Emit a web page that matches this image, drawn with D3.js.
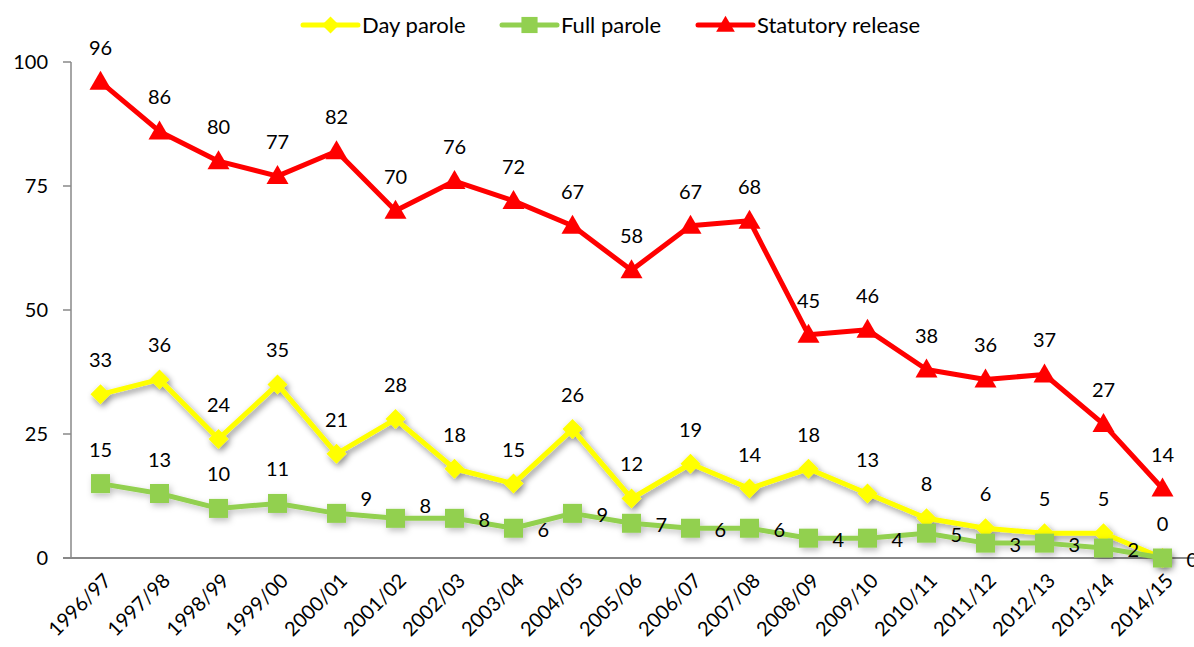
<!DOCTYPE html>
<html>
<head>
<meta charset="utf-8">
<script src="https://cdn.jsdelivr.net/npm/d3@7"></script>
<style>
  body { margin: 0; background: #fff; }
  svg { font-family: Lato, "Open Sans", sans-serif; }
</style>
</head>
<body>
<svg id="chart" width="1194" height="647"></svg>
<script>
// values
var years = ["1996/97", "1997/98", "1998/99", "1999/00", "2000/01", "2001/02", "2002/03",
  "2003/04", "2004/05", "2005/06", "2006/07", "2007/08", "2008/09", "2009/10",
  "2010/11", "2011/12", "2012/13", "2013/14", "2014/15"];
var dayParole = [33, 36, 24, 35, 21, 28, 18, 15, 26, 12, 19, 14, 18, 13, 8, 6, 5, 5, 0];
var fullParole = [15, 13, 10, 11, 9, 8, 8, 6, 9, 7, 6, 6, 4, 4, 5, 3, 3, 2, 0];
var statutory = [96, 86, 80, 77, 82, 70, 76, 72, 67, 58, 67, 68, 45, 46, 38, 36, 37, 27, 14];
var yTicks = [0, 25, 50, 75, 100];

var series = [
  { name: "Day parole", values: dayParole, color: "#ffff00", marker: "diamond", shadow: "shadowDark" },
  { name: "Full parole", values: fullParole, color: "#92d050", marker: "square", shadow: "shadowLight" },
  { name: "Statutory release", values: statutory, color: "#ff0000", marker: "triangle", shadow: null }
];

var svg = d3.select("#chart");
var plotLeft = 71, plotRight = 1192, plotTop = 62, plotBottom = 558;
var labelSize = 20;

var x = d3.scalePoint().domain(years).range([plotLeft, plotRight]).padding(0.5);
var y = d3.scaleLinear().domain([0, 100]).range([plotBottom, plotTop]);

// drop shadows
var defs = svg.append("defs");
function addShadow(id, opacity) {
  var f = defs.append("filter").attr("id", id)
    .attr("x", "-20%").attr("y", "-20%").attr("width", "140%").attr("height", "140%");
  f.append("feDropShadow").attr("dx", 2).attr("dy", 3).attr("stdDeviation", 3)
    .attr("flood-color", "#000").attr("flood-opacity", opacity);
}
addShadow("shadowDark", 0.45);
addShadow("shadowLight", 0.25);

function markerPath(type, cx, cy) {
  if (type === "diamond") {
    var r = 10;
    return "M" + cx + "," + (cy - r) + "L" + (cx + r) + "," + cy + "L" + cx + "," + (cy + r) + "L" + (cx - r) + "," + cy + "Z";
  }
  if (type === "square") {
    var h = 9.5;
    return "M" + (cx - h) + "," + (cy - h) + "h" + (2 * h) + "v" + (2 * h) + "h" + (-2 * h) + "Z";
  }
  var w = 11, t = 11, b = 8;
  return "M" + cx + "," + (cy - t) + "L" + (cx + w) + "," + (cy + b) + "L" + (cx - w) + "," + (cy + b) + "Z";
}

// axes
svg.append("line").attr("x1", plotLeft).attr("x2", plotLeft).attr("y1", plotTop).attr("y2", plotBottom)
  .attr("stroke", "#888").attr("stroke-width", 1.5);
svg.append("line").attr("x1", 63).attr("x2", 1194).attr("y1", plotBottom).attr("y2", plotBottom)
  .attr("stroke", "#888").attr("stroke-width", 2);

svg.selectAll(".ytick").data(yTicks).enter().append("line")
  .attr("x1", 63).attr("x2", plotLeft).attr("y1", function(d) { return y(d); }).attr("y2", function(d) { return y(d); })
  .attr("stroke", "#888").attr("stroke-width", 1.5);
svg.selectAll(".ylab").data(yTicks).enter().append("text")
  .attr("x", 48).attr("y", function(d) { return y(d); }).attr("dy", "0.35em")
  .attr("text-anchor", "end").attr("font-size", 20).attr("fill", "#000")
  .text(function(d) { return d; });

svg.selectAll(".xlab").data(years).enter().append("text")
  .attr("transform", function(d) { return "translate(" + (x(d) + 7) + "," + 577 + ") rotate(-45)"; })
  .attr("text-anchor", "end").attr("font-size", 20).attr("fill", "#000")
  .attr("dy", "0.35em")
  .text(function(d) { return d; });

// lines and markers
var line = d3.line().x(function(d, i) { return x(years[i]); }).y(function(d) { return y(d); });

series.forEach(function(s) {
  var g = svg.append("g");
  if (s.shadow) g.attr("filter", "url(#" + s.shadow + ")");
  g.append("path").datum(s.values).attr("d", line)
    .attr("fill", "none").attr("stroke", s.color).attr("stroke-width", 5)
    .attr("stroke-linejoin", "round");
  g.selectAll(".m").data(s.values).enter().append("path")
    .attr("d", function(d, i) { return markerPath(s.marker, x(years[i]), y(d)); })
    .attr("fill", s.color);
});

// data labels
function labelAbove(vals) {
  svg.append("g").selectAll("text").data(vals).enter().append("text")
    .attr("x", function(d, i) { return x(years[i]); })
    .attr("y", function(d) { return y(d) - 34; })
    .attr("dy", "0.35em").attr("text-anchor", "middle").attr("font-size", labelSize).attr("fill", "#000")
    .text(function(d) { return d; });
}
labelAbove(dayParole);
labelAbove(statutory);

// full parole: first four above, the rest to the right of the point
var raised = { 4: -16, 5: -14 };
svg.append("g").selectAll("text").data(fullParole).enter().append("text")
  .attr("x", function(d, i) { return i < 4 ? x(years[i]) : x(years[i]) + 24; })
  .attr("y", function(d, i) { return i < 4 ? y(d) - 34 : y(d) + 2 + (raised[i] || 0); })
  .attr("dy", "0.35em").attr("text-anchor", function(d, i) { return i < 4 ? "middle" : "start"; })
  .attr("font-size", labelSize).attr("fill", "#000")
  .text(function(d) { return d; });

// legend
var legendX = [303, 502, 698];
var legend = svg.append("g");
series.forEach(function(s, i) {
  var lx = legendX[i], ly = 25;
  legend.append("line").attr("x1", lx).attr("x2", lx + 55).attr("y1", ly).attr("y2", ly)
    .attr("stroke", s.color).attr("stroke-width", 5).attr("stroke-linecap", "round");
  legend.append("path").attr("d", markerPath(s.marker, 0, 0)).attr("fill", s.color)
    .attr("transform", "translate(" + (lx + 27.5) + "," + ly + ") scale(0.85)");
  legend.append("text").attr("x", lx + 59).attr("y", ly).attr("dy", "0.35em")
    .attr("font-size", 22).attr("fill", "#000").text(s.name);
});
</script>
</body>
</html>
